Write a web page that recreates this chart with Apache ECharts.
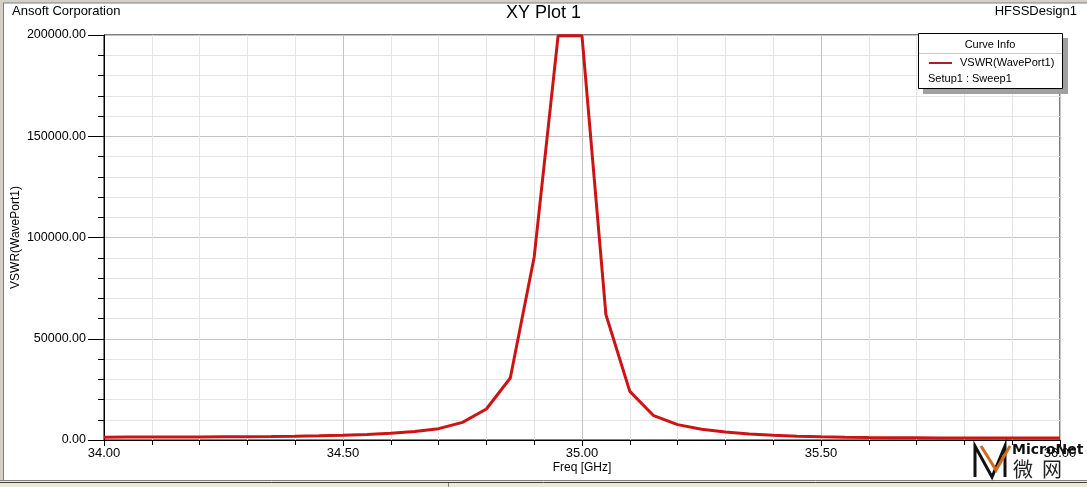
<!DOCTYPE html>
<html>
<head>
<meta charset="utf-8">
<script src="https://cdn.jsdelivr.net/npm/echarts@6/dist/echarts.min.js"></script>
<style>
html,body{margin:0;padding:0;background:#fff;}
#c{width:1087px;height:487px;}
</style>
</head>
<body>
<div id="c"></div>
<script>
const freqGHz = [34.00,34.05,34.10,34.15,34.20,34.25,34.30,34.35,34.40,34.45,34.50,34.55,34.60,34.65,34.70,34.75,34.80,34.85,34.90,34.95,35.00,35.05,35.10,35.15,35.20,35.25,35.30,35.35,35.40,35.45,35.50,35.55,35.60,35.65,35.70,35.75,35.80,35.85,35.90,35.95,36.00];
const vswrWavePort1 = [1400,1420,1450,1480,1520,1570,1630,1720,1850,2050,2350,2750,3300,4200,5600,8700,15300,30600,90400,199600,199600,62000,24000,12000,7600,5300,3900,3000,2300,1900,1600,1400,1250,1150,1080,1030,1000,980,960,950,940];
const seriesName = 'VSWR(WavePort1)';
const setupLabel = 'Setup1 : Sweep1';

const FONT = '"Liberation Sans", Arial, sans-serif';
const chart = echarts.init(document.getElementById('c'), null, {renderer:'canvas'});
const data = freqGHz.map((f,i)=>[f, vswrWavePort1[i]]);

chart.setOption({
  animation:false,
  backgroundColor:'#ffffff',
  textStyle:{fontFamily:FONT},
  grid:{left:104, right:27, top:35, bottom:47, show:true, borderColor:'#000', borderWidth:1, containLabel:false, outerBoundsMode:'none'},
  xAxis:{
    type:'value', min:34, max:36, interval:0.5,
    name:'Freq [GHz]', nameLocation:'middle', nameGap:22, nameMoveOverlap:false,
    nameTextStyle:{color:'#000', fontSize:12, fontFamily:FONT},
    axisLine:{show:true, lineStyle:{color:'#000', width:1}},
    axisTick:{show:true, inside:false, length:6, lineStyle:{color:'#000'}},
    minorTick:{show:true, splitNumber:5, length:5, lineStyle:{color:'#000'}},
    axisLabel:{color:'#000', fontSize:13, margin:7, fontFamily:FONT, formatter:v=>v.toFixed(2)},
    splitLine:{show:true, lineStyle:{color:'#c4c4c4', width:1}},
    minorSplitLine:{show:true, lineStyle:{color:'#e4e4e4', width:1}}
  },
  yAxis:{
    type:'value', min:0, max:200000, interval:50000,
    name:'VSWR(WavePort1)', nameLocation:'middle', nameGap:82, nameRotate:90, nameMoveOverlap:false,
    nameTextStyle:{color:'#000', fontSize:12, fontFamily:FONT},
    axisLine:{show:true, lineStyle:{color:'#000', width:1}},
    axisTick:{show:true, inside:false, length:16, lineStyle:{color:'#000'}},
    minorTick:{show:true, splitNumber:5, length:6, lineStyle:{color:'#000'}},
    axisLabel:{color:'#000', fontSize:12.5, margin:18, fontFamily:FONT, formatter:v=>v.toFixed(2)},
    splitLine:{show:true, lineStyle:{color:'#c4c4c4', width:1}},
    minorSplitLine:{show:true, lineStyle:{color:'#e4e4e4', width:1}}
  },
  series:[{
    name:seriesName, type:'line', data:data, symbol:'none', smooth:false,
    lineStyle:{color:'#cc1414', width:3}, clip:true
  }],
  graphic:[
    {type:'rect', left:0, top:0, shape:{width:1087,height:3}, style:{fill:'#d4d0c8'}, z:100},
    {type:'rect', left:0, top:0, shape:{width:3,height:487}, style:{fill:'#d4d0c8'}, z:100},
    {type:'line', shape:{x1:3,y1:3,x2:1087,y2:3}, style:{stroke:'#808080', lineWidth:1}, z:100},
    {type:'line', shape:{x1:3.5,y1:3,x2:3.5,y2:481}, style:{stroke:'#808080', lineWidth:1}, z:100},
    {type:'rect', left:0, top:480, shape:{width:1087,height:7}, style:{fill:'#ece9d8'}, z:100},
    {type:'line', shape:{x1:0,y1:480.5,x2:1087,y2:480.5}, style:{stroke:'#808080', lineWidth:1}, z:101},
    {type:'line', shape:{x1:0,y1:482.5,x2:1087,y2:482.5}, style:{stroke:'#404040', lineWidth:1}, z:101},
    {type:'line', shape:{x1:448.5,y1:483,x2:448.5,y2:487}, style:{stroke:'#808080', lineWidth:1}, z:101},
    {type:'text', left:12, top:5, style:{text:'Ansoft Corporation', fill:'#000', font:'13px '+FONT}, z:100},
    {type:'text', left:'center', top:4, style:{text:'XY Plot 1', fill:'#000', font:'18px '+FONT}, z:100},
    {type:'text', right:10, top:5, style:{text:'HFSSDesign1', fill:'#000', font:'13px '+FONT}, z:100},
    {type:'rect', shape:{x:923,y:38,width:145,height:56}, style:{fill:'#a0a0a0'}, z:100},
    {type:'rect', shape:{x:918.5,y:33.5,width:144,height:55}, style:{fill:'#fff', stroke:'#000', lineWidth:1}, z:101},
    {type:'text', x:990, y:39, style:{text:'Curve Info', fill:'#000', font:'11px '+FONT, align:'center'}, z:102},
    {type:'line', shape:{x1:919,y1:53.5,x2:1062,y2:53.5}, style:{stroke:'#c8c8c8', lineWidth:1}, z:102},
    {type:'line', shape:{x1:929,y1:63,x2:952,y2:63}, style:{stroke:'#a82020', lineWidth:2}, z:102},
    {type:'text', x:960, y:57, style:{text:seriesName, fill:'#000', font:'11px '+FONT}, z:102},
    {type:'text', x:928, y:73, style:{text:setupLabel, fill:'#000', font:'11px '+FONT}, z:102},
    {type:'polyline', shape:{points:[[975,477],[975,446],[992,477],[1005,446],[1005,477]]}, style:{stroke:'#111', lineWidth:3, fill:null}, z:110},
    {type:'polyline', shape:{points:[[981,446],[996,470],[1010,446]]}, style:{stroke:'#d2691e', lineWidth:3, fill:null}, z:110},
    {type:'text', x:1012, y:443, style:{text:'MicroNet', fill:'#111', font:'bold 14px "DejaVu Sans", sans-serif'}, z:110},
    {type:'text', x:1013, y:459, style:{text:'微  网', fill:'#222', font:'20px "Noto Sans CJK SC", sans-serif'}, z:110}
  ]
});
</script>
</body>
</html>
